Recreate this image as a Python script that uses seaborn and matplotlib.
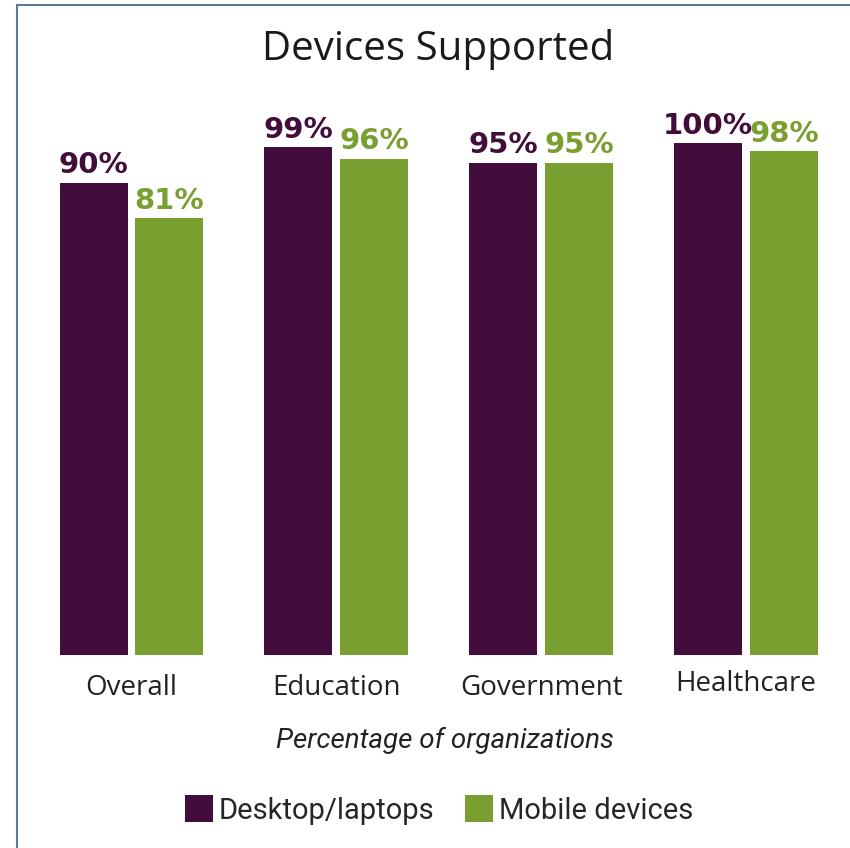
import matplotlib
matplotlib.use("Agg")
import matplotlib.pyplot as plt
import matplotlib.transforms as mtransforms
import seaborn as sns
import pandas as pd
from matplotlib.lines import Line2D
from matplotlib.patches import Patch

categories = ["Overall", "Education", "Government", "Healthcare"]
desktop = [90, 99, 95, 100]
mobile = [81, 96, 95, 98]
series_names = ["Desktop/laptops", "Mobile devices"]
title = "Devices Supported"
xlabel = "Percentage of organizations"

PURPLE = "#420d3b"
GREEN = "#7a9f31"
BASE = -29.6  # visual baseline of bars (bars don't start at zero in original)

df = pd.DataFrame({
    "category": categories * 2,
    "value": desktop + mobile,
    "series": [series_names[0]] * len(categories) + [series_names[1]] * len(categories),
})

sns.set_theme(style="white")
plt.rcParams["font.family"] = ["Open Sans", "DejaVu Sans"]

W, H = 850, 848
fig = plt.figure(figsize=(W / 100, H / 100), dpi=100)
ax_top_px, ax_bot_px = 100, 655
ax = fig.add_axes([0, (H - ax_bot_px) / H, 1, (ax_bot_px - ax_top_px) / H])

sns.barplot(data=df, x="category", y="value", hue="series", order=categories,
            hue_order=series_names, palette=[PURPLE, GREEN], width=0.742, gap=0.105,
            saturation=1, ax=ax, legend=False)

px_per_unit = 3.95
ymax = BASE + (ax_bot_px - ax_top_px) / px_per_unit
ax.set_ylim(BASE, ymax)
ax.set_xlim(-131.5 / 204.8, (W - 131.5) / 204.8)

# shift bars to start from visual baseline and add labels
for container, color in zip(ax.containers, [PURPLE, GREEN]):
    for patch in container:
        h = patch.get_height()
        patch.set_y(BASE)
        patch.set_height(h - BASE)
        patch.set_linewidth(0)
        ax.text(patch.get_x() + patch.get_width() / 2, h + 2.4, f"{int(round(h))}%",
                ha="center", va="baseline", color=color, fontsize=21, fontweight="bold",
                family=["DejaVu Sans"])

for s in ax.spines.values():
    s.set_visible(False)
ax.set_yticks([])
ax.set_ylabel("")
ax.tick_params(axis="x", length=0, pad=14, labelsize=20, labelcolor="#222222")
for lbl in ax.get_xticklabels():
    lbl.set_family(["Open Sans", "DejaVu Sans"])
    if lbl.get_text() == "Healthcare":
        lbl.set_transform(lbl.get_transform() +
                          mtransforms.ScaledTranslation(0, 4 / 100, fig.dpi_scale_trans))
ax.set_xlabel(xlabel, fontsize=20, fontstyle="italic", color="#222222",
              family=["Roboto", "DejaVu Sans"])
ax.xaxis.set_label_coords(445 / W, -(740 - ax_bot_px) / (ax_bot_px - ax_top_px))
ax.xaxis.label.set_va("center")

fig.text(438 / W, 1 - 50 / H, title, ha="center", va="center", fontsize=29,
         color="#1a1a1a", family=["Open Sans", "DejaVu Sans"])

handles = [Patch(facecolor=PURPLE, edgecolor="none"), Patch(facecolor=GREEN, edgecolor="none")]
fig.legend(handles, series_names, loc="center", bbox_to_anchor=(439 / W, 1 - 810 / H),
           ncol=2, frameon=False, handlelength=0.95, handleheight=1.0,
           handletextpad=0.2, columnspacing=1.05, prop={"family": ["Roboto", "DejaVu Sans"], "size": 21})

# border lines
fig.add_artist(Line2D([17 / W, 17 / W], [0, 1 - 5 / H], color="#5b7a96", lw=1.5, transform=fig.transFigure))
fig.add_artist(Line2D([17 / W, 1], [1 - 5 / H, 1 - 5 / H], color="#5b7a96", lw=1.5, transform=fig.transFigure))

fig.savefig("out.png", dpi=100)
